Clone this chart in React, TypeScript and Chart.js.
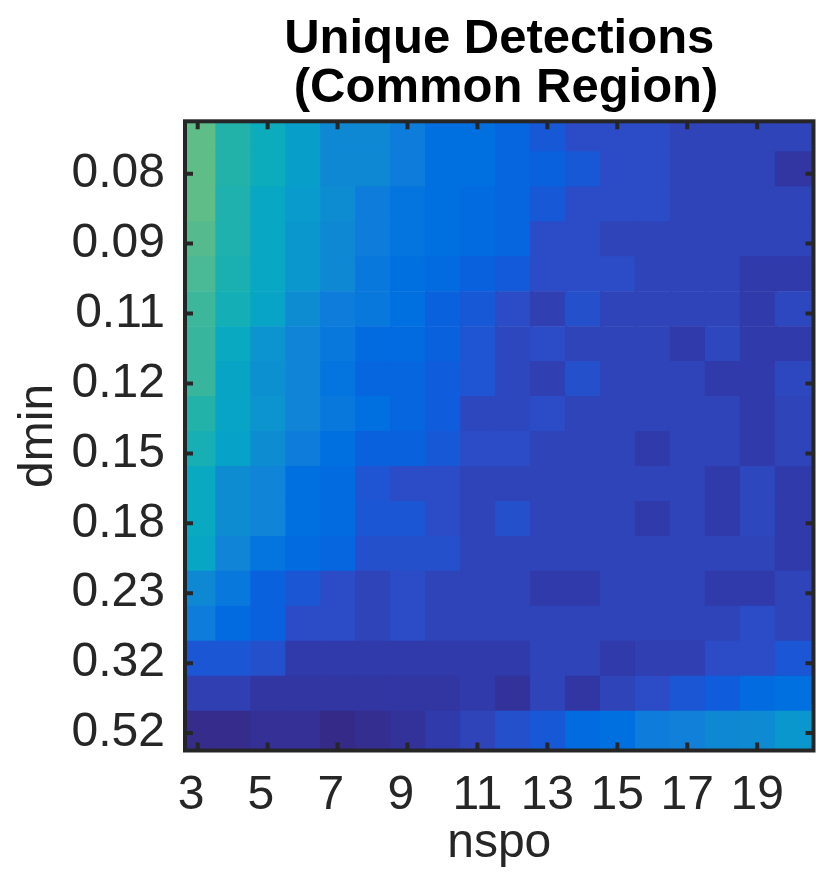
import React, { useEffect, useRef } from "react";
import { Chart, registerables } from "chart.js";

Chart.register(...registerables);

const titleLines = ["Unique Detections", " (Common Region)"];
const nspo = [3, 4, 5, 6, 7, 8, 9, 10, 11, 12, 13, 14, 15, 16, 17, 18, 19, 20];
const xTickValues = [3, 5, 7, 9, 11, 13, 15, 17, 19];
const xTickLabels = ["3 ", "5 ", "7 ", "9 ", "11", "13", "15", "17", "19"];
const yTickLabels = ["0.08", "0.09", "0.11", "0.12", "0.15", "0.18", "0.23", "0.32", "0.52"];

// one row per dmin step, top to bottom; one entry per nspo value
const detections: number[][] = [
  [50, 37, 31, 24, 18, 18, 15, 12, 12, 10, 7, 5, 5, 5, 4, 4, 4, 4],
  [50, 37, 31, 24, 18, 18, 15, 12, 12, 10, 9, 7, 5, 5, 4, 4, 4, 2.5],
  [50, 36, 28, 23, 19, 15, 13, 12, 11, 10, 7, 5, 5, 5, 4, 4, 4, 4],
  [48, 36, 28, 22, 18, 15, 13, 12, 11, 10, 5, 5, 4, 4, 4, 4, 4, 4],
  [46, 35, 28, 22, 18, 14, 12, 11, 9, 7.5, 5, 5, 5, 4, 4, 4, 3, 3],
  [43, 33, 26, 19, 15, 14, 12, 9, 7, 5, 3.5, 5.5, 4, 4, 4, 4, 3, 4.5],
  [42, 29, 21, 17, 14, 11, 11, 9, 6, 4.5, 5, 4, 4, 4, 3, 4.5, 3, 3],
  [42, 26, 20, 17, 13, 10, 10, 8, 6, 4.5, 3.5, 5.5, 4, 4, 4, 3, 3, 4.5],
  [37, 26, 21, 17, 14, 12, 10, 8, 4.5, 4.5, 5, 4, 4, 4, 4, 4, 3, 4],
  [34, 25, 19, 15, 12, 9, 9, 7, 5, 5, 4, 4, 4, 3, 4, 4, 3, 4],
  [29, 19, 17, 12, 11, 6, 5, 5, 4, 4, 4, 4, 4, 4, 4, 3, 4.5, 3],
  [29, 19, 17, 12, 11, 6.5, 6.5, 5, 4, 5.5, 4, 4, 4, 3, 4, 3, 4.5, 3],
  [27, 17, 13, 11, 10, 5.5, 5.5, 5.5, 4, 4, 4, 4, 4, 4, 4, 4, 4, 3],
  [18, 14, 9, 6.5, 5, 4, 5, 4, 4, 4, 3, 3, 4, 4, 4, 3, 3, 4],
  [15, 11, 9, 5, 5, 4, 5, 4, 4, 4, 4, 4, 4, 4, 4, 4, 5, 4],
  [6.5, 6.5, 5.5, 3, 3, 3, 3, 3, 3, 3, 4, 4, 3, 3.5, 3.5, 5, 5, 6.5],
  [3.5, 3.5, 2.5, 2.5, 2.5, 2.5, 2.5, 2.5, 3, 2, 4, 2.5, 4, 5, 6.5, 8, 11, 12],
  [0.5, 0.5, 1.5, 1.5, 0, 1, 2, 3, 4, 5.5, 7, 11, 12, 15, 16, 18, 18.5, 22],
];

const colorStopValues = [0, 2, 3, 4, 5, 6, 8, 10, 12, 16, 20, 25, 30, 35, 40, 45, 50];
const colorStopRgb = [
  [53, 42, 135], [51, 50, 155], [49, 58, 170], [46, 68, 184], [43, 76, 198], [31, 84, 210],
  [15, 92, 220], [5, 102, 224], [0, 112, 224], [17, 128, 216], [12, 144, 208], [6, 162, 200],
  [10, 171, 192], [26, 176, 176], [48, 181, 160], [69, 184, 152], [95, 189, 136],
];

const INK = "#262626";
const FONT = "'Liberation Sans', Arial, sans-serif";

function colorFor(v: number): string {
  let i = 0;
  while (i < colorStopValues.length - 2 && v > colorStopValues[i + 1]) i++;
  const t = (v - colorStopValues[i]) / (colorStopValues[i + 1] - colorStopValues[i]);
  const c = colorStopRgb[i].map((a, k) => Math.round(a + (colorStopRgb[i + 1][k] - a) * t));
  return `rgb(${c[0]},${c[1]},${c[2]})`;
}

const framePlugin = {
  id: "frame",
  afterDatasetsDraw(chart: any) {
    const { ctx, chartArea: a, scales } = chart;
    ctx.save();
    ctx.strokeStyle = INK;
    ctx.lineWidth = 4;
    ctx.beginPath();
    for (const t of scales.x.ticks) {
      const p = scales.x.getPixelForValue(t.value);
      ctx.moveTo(p, a.top);
      ctx.lineTo(p, a.top + 8);
      ctx.moveTo(p, a.bottom);
      ctx.lineTo(p, a.bottom - 8);
    }
    for (const t of scales.y.ticks) {
      const p = scales.y.getPixelForValue(t.value);
      ctx.moveTo(a.left, p);
      ctx.lineTo(a.left + 8, p);
      ctx.moveTo(a.right, p);
      ctx.lineTo(a.right - 8, p);
    }
    ctx.stroke();
    ctx.strokeRect(a.left, a.top, a.right - a.left, a.bottom - a.top);
    ctx.restore();
  },
};

export default function App() {
  const ref = useRef<HTMLCanvasElement>(null);
  useEffect(() => {
    const lastRow = detections.length;
    const datasets = nspo.map((n, c) => ({
      label: String(n),
      data: detections.map((row, r) => ({
        x: n,
        y: [r === 0 ? 0 : r + 0.5, r === lastRow - 1 ? lastRow + 1 : r + 1.5],
      })),
      backgroundColor: detections.map((row) => colorFor(row[c])),
      borderWidth: 0,
      barThickness: 37,
      grouped: false,
      order: nspo.length - c,
    }));
    const chart = new Chart(ref.current as HTMLCanvasElement, {
      type: "bar",
      data: { datasets } as any,
      options: {
        animation: false,
        responsive: false,
        devicePixelRatio: 1,
        layout: { padding: { left: 0, right: 16.5, top: 0, bottom: 0 } },
        plugins: {
          legend: { display: false },
          tooltip: { enabled: false },
          title: {
            display: true,
            text: titleLines,
            fullSize: false,
            color: "#000000",
            font: { family: FONT, size: 49, weight: "bold", lineHeight: 1.0 },
            padding: { top: 15, bottom: 8.3 },
          },
        },
        scales: {
          x: {
            type: "linear",
            offset: false,
            min: 2.5925,
            max: 20.5675,
            grid: { display: false, drawTicks: false, offset: false },
            border: { display: false },
            title: {
              display: true,
              text: "nspo",
              color: INK,
              font: { family: FONT, size: 48 },
              padding: { top: 0, bottom: 7 },
            },
            ticks: {
              autoSkip: false,
              maxRotation: 0,
              color: INK,
              padding: 16,
              font: { family: FONT, size: 48 },
              callback: (_v: any, i: number) => xTickLabels[i],
            },
            afterBuildTicks: (s: any) => {
              s.ticks = xTickValues.map((v) => ({ value: v - 0.044 }));
            },
            afterFit: (s: any) => {
              s.height = 129.5;
            },
          },
          y: {
            type: "linear",
            reverse: true,
            min: 0.631,
            max: 18.629,
            grid: { display: false, drawTicks: false },
            border: { display: false },
            title: {
              display: true,
              text: "dmin",
              color: INK,
              font: { family: FONT, size: 48 },
              padding: { top: 10, bottom: 0 },
            },
            ticks: {
              autoSkip: false,
              color: INK,
              padding: 20,
              font: { family: FONT, size: 48 },
              callback: (_v: any, i: number) => yTickLabels[i],
            },
            afterBuildTicks: (s: any) => {
              s.ticks = yTickLabels.map((_, i) => ({ value: 2.13 + 2 * i }));
            },
            afterFit: (s: any) => {
              s.width = 185;
            },
          },
        },
      } as any,
      plugins: [framePlugin],
    });
    return () => chart.destroy();
  }, []);
  return (
    <div style={{ position: "absolute", left: 0, top: 0, width: 830, height: 880, background: "#fff" }}>
      <canvas ref={ref} width={830} height={880} style={{ display: "block" }} />
    </div>
  );
}
